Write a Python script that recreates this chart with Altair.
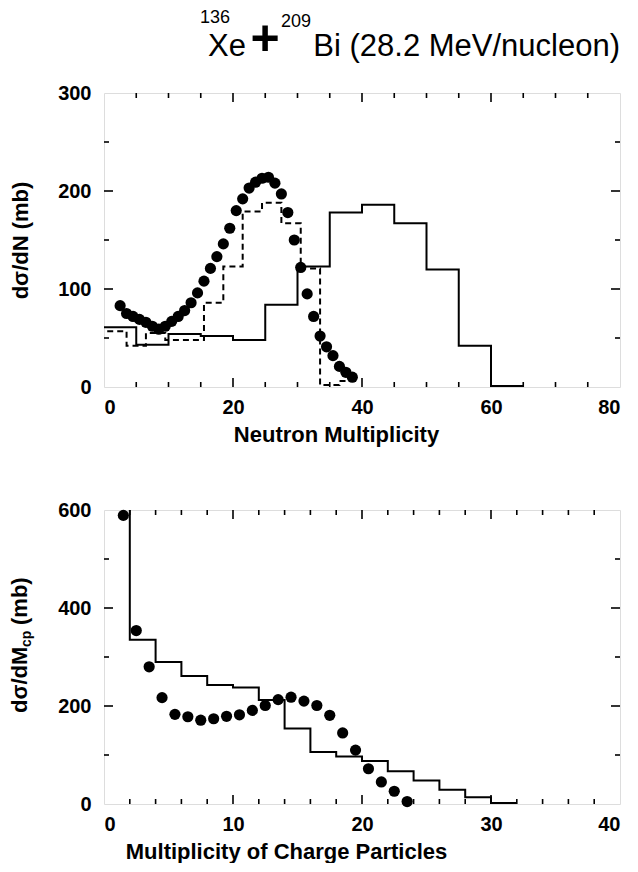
import altair as alt
import pandas as pd

# ---------------- data: top panel (neutron multiplicity) ----------------
n_dot_x = [2.5, 3.5, 4.5, 5.5, 6.5, 7.5, 8.5, 9.5, 10.5, 11.5, 12.5, 13.5, 14.5,
           15.5, 16.5, 17.5, 18.5, 19.5, 20.5, 21.5, 22.5, 23.5, 24.5, 25.5, 26.5,
           27.5, 28.5, 29.5, 30.5, 31.5, 32.5, 33.5, 34.5, 35.5, 36.5, 37.5, 38.5]
n_dot_y = [83, 75, 72, 69, 66, 62, 59, 62, 67, 72, 78, 86, 96,
           108, 121, 133, 146, 162, 180, 192, 203, 209, 213, 214, 208,
           197, 178, 150, 122, 95, 72, 52, 41, 32, 21, 15, 10]

n_solid_edges = [0, 5, 10, 15, 20, 25, 30, 35, 40, 45, 50, 55, 60, 65]
n_solid_vals = [61, 43, 54, 52, 48, 84, 123, 178, 186, 167, 120, 42, 1]

n_dash_edges = [0.5, 3.5, 6.5, 9.5, 12.5, 15.5, 18.5, 21.5, 24.5, 27.5, 30.5, 33.5, 36.5, 39.5]
n_dash_vals = [57, 42, 55, 48, 48, 86, 123, 179, 188, 167, 121, 2, 6]

n_x_labels = [0, 20, 40, 60, 80]
n_x_minor = [5, 10, 15, 25, 30, 35, 45, 50, 55, 65, 70, 75]
n_y_labels = [0, 100, 200, 300]
n_y_minor = [50, 150, 250]

# ---------------- data: bottom panel (charged particles) ----------------
c_dot_x = [1.5, 2.5, 3.5, 4.5, 5.5, 6.5, 7.5, 8.5, 9.5, 10.5, 11.5, 12.5,
           13.5, 14.5, 15.5, 16.5, 17.5, 18.5, 19.5, 20.5, 21.5, 22.5, 23.5]
c_dot_y = [589, 354, 280, 217, 183, 178, 171, 174, 179, 182, 191, 201,
           213, 218, 210, 201, 181, 145, 110, 72, 45, 26, 5]

c_hist_edges = [0, 2, 4, 6, 8, 10, 12, 14, 16, 18, 20, 22, 24, 26, 28, 30, 32]
c_hist_vals = [650, 335, 290, 261, 243, 238, 212, 154, 106, 97, 88, 67, 48, 29, 14, 2]

c_x_labels = [0, 10, 20, 30, 40]
c_x_minor = [2, 4, 6, 8, 12, 14, 16, 18, 22, 24, 26, 28, 32, 34, 36, 38]
c_y_labels = [0, 200, 400, 600]
c_y_minor = [100, 300, 500]

# title pieces
t_mass1, t_elem1, t_plus, t_mass2, t_rest = "136", "Xe", "+", "209", "Bi (28.2 MeV/nucleon)"

W, H = 516, 294
FONT = "Liberation Sans"
LBL = 20
TTL = 22


def step_df(edges, vals):
    xs = list(edges[:-1]) + [edges[-1]]
    ys = list(vals) + [vals[-1]]
    return pd.DataFrame({"x": xs, "y": ys})


def tick_layers(xdom, ydom, xmaj, xmin, ymaj, ymin):
    xs = alt.Scale(domain=xdom, nice=False, zero=False)
    ys = alt.Scale(domain=ydom, nice=False, zero=False)
    layers = []
    for vals, ln in ((xmaj, 9), (xmin, 5)):
        d = pd.DataFrame({"v": vals})
        layers.append(alt.Chart(d).mark_rule(color="black", strokeWidth=1.6).encode(
            x=alt.X("v:Q", scale=xs), y=alt.value(H), y2=alt.value(H - ln)))
        layers.append(alt.Chart(d).mark_rule(color="black", strokeWidth=1.6).encode(
            x=alt.X("v:Q", scale=xs), y=alt.value(0), y2=alt.value(ln)))
    for vals, ln in ((ymaj, 9), (ymin, 5)):
        d = pd.DataFrame({"v": vals})
        layers.append(alt.Chart(d).mark_rule(color="black", strokeWidth=1.6).encode(
            y=alt.Y("v:Q", scale=ys), x=alt.value(0), x2=alt.value(ln)))
        layers.append(alt.Chart(d).mark_rule(color="black", strokeWidth=1.6).encode(
            y=alt.Y("v:Q", scale=ys), x=alt.value(W), x2=alt.value(W - ln)))
    return layers


def text_piece(txt, x, y, size, align, baseline="alphabetic", angle=0, weight="normal"):
    props = dict(align=align, baseline=baseline, font=FONT, fontSize=size,
                 fontWeight=weight, color="black")
    if angle:
        props["angle"] = angle
    return alt.Chart(pd.DataFrame({"t": [txt]})).mark_text(**props).encode(
        text="t:N", x=alt.value(x), y=alt.value(y))


# ---------------- top panel ----------------
nx = alt.Scale(domain=[0, 80], nice=False, zero=False)
ny = alt.Scale(domain=[0, 300], nice=False, zero=False)
n_xaxis = alt.Axis(values=n_x_labels, ticks=False, domain=False, grid=False,
                   labelFont=FONT, labelFontSize=LBL, labelFontWeight="bold", labelPadding=10,
                   title="Neutron Multiplicity", titleFont=FONT, titleFontSize=TTL,
                   titleFontWeight="bold", titlePadding=7, titleX=232, titleAlign="center")
n_yaxis = alt.Axis(values=n_y_labels, ticks=False, domain=False, grid=False,
                   labelFont=FONT, labelFontSize=LBL, labelFontWeight="bold", labelPadding=13,
                   title="dσ/dN   (mb)", titleFont=FONT, titleFontSize=TTL,
                   titleFontWeight="bold", titleX=-84, titleY=H / 2, titleAlign="center",
                   titleBaseline="middle")

n_solid = alt.Chart(step_df(n_solid_edges, n_solid_vals)).mark_line(
    interpolate="step-after", color="black", strokeWidth=2, clip=True).encode(
    x=alt.X("x:Q", scale=nx, axis=n_xaxis), y=alt.Y("y:Q", scale=ny, axis=n_yaxis))
n_dash = alt.Chart(step_df(n_dash_edges, n_dash_vals)).mark_line(
    interpolate="step-after", color="black", strokeWidth=2, strokeDash=[6, 4], clip=True).encode(
    x=alt.X("x:Q", scale=nx), y=alt.Y("y:Q", scale=ny))
n_dots = alt.Chart(pd.DataFrame({"x": n_dot_x, "y": n_dot_y})).mark_circle(
    color="black", size=125, opacity=1).encode(
    x=alt.X("x:Q", scale=nx), y=alt.Y("y:Q", scale=ny))

title_marks = [
    text_piece(t_mass1, W - 420, -70, 18, "left"),
    text_piece(t_elem1, W - 374, -37, 31, "right"),
    text_piece(t_plus, W - 355, -53, 50, "center", baseline="middle", weight="bold"),
    text_piece(t_mass2, W - 309, -66, 18, "right"),
    text_piece(t_rest, W, -37, 31, "right"),
]

top = alt.layer(n_solid, n_dash, n_dots, *title_marks,
                *tick_layers([0, 80], [0, 300], n_x_labels[1:-1], n_x_minor,
                             n_y_labels[1:-1], n_y_minor)).properties(width=W, height=H)

# ---------------- bottom panel ----------------
cx = alt.Scale(domain=[0, 40], nice=False, zero=False)
cy = alt.Scale(domain=[0, 600], nice=False, zero=False)
c_xaxis = alt.Axis(values=c_x_labels, ticks=False, domain=False, grid=False,
                   labelFont=FONT, labelFontSize=LBL, labelFontWeight="bold", labelPadding=10,
                   title="Multiplicity of Charge Particles", titleFont=FONT, titleFontSize=TTL,
                   titleFontWeight="bold", titlePadding=7, titleX=182, titleAlign="center")
c_yaxis = alt.Axis(values=c_y_labels, ticks=False, domain=False, grid=False,
                   labelFont=FONT, labelFontSize=LBL, labelFontWeight="bold", labelPadding=13,
                   title=None)

c_hist = alt.Chart(step_df(c_hist_edges, c_hist_vals)).mark_line(
    interpolate="step-after", color="black", strokeWidth=2, clip=True).encode(
    x=alt.X("x:Q", scale=cx, axis=c_xaxis), y=alt.Y("y:Q", scale=cy, axis=c_yaxis))
c_dots = alt.Chart(pd.DataFrame({"x": c_dot_x, "y": c_dot_y})).mark_circle(
    color="black", size=125, opacity=1).encode(
    x=alt.X("x:Q", scale=cx), y=alt.Y("y:Q", scale=cy))

c_title = [
    text_piece("dσ/dM", -84, 203, TTL, "left", baseline="middle", angle=270, weight="bold"),
    text_piece("cp", -77, 137, 14, "left", baseline="middle", angle=270, weight="bold"),
    text_piece("(mb)", -84, 115, TTL, "left", baseline="middle", angle=270, weight="bold"),
]

bottom = alt.layer(c_hist, c_dots, *c_title,
                   *tick_layers([0, 40], [0, 600], c_x_labels[1:-1], c_x_minor,
                                c_y_labels[1:-1], c_y_minor)).properties(width=W, height=H)

chart = alt.vconcat(top, bottom, spacing=53).properties(padding=0).configure_view(
    stroke="black", strokeWidth=2.5).configure(background="white")

chart.save("out.html", embed_options={"renderer": "svg", "actions": False})
